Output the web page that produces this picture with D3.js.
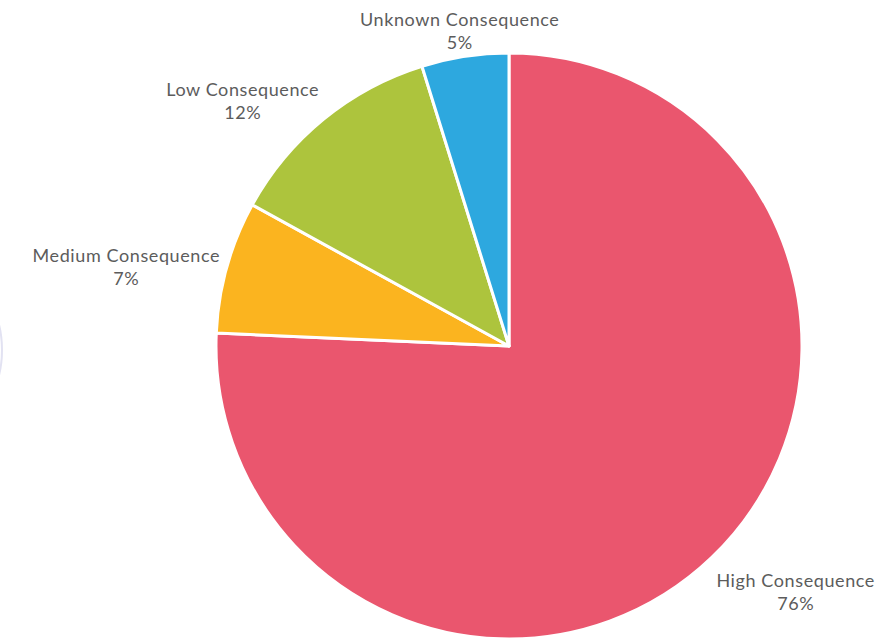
<!DOCTYPE html>
<meta charset="utf-8">
<style>
  body { margin: 0; background: #fff; }
  .label { font-family: Lato, "Open Sans", sans-serif; font-weight: 400; font-size: 18px; letter-spacing: 0.6px; fill: #5c5c5c; }
</style>
<body>
<div id="chart"></div>
<script src="https://d3js.org/d3.v7.min.js"></script>
<script>
  // slices, clockwise from 12 o'clock
  var categories = ["High Consequence", "Medium Consequence", "Low Consequence", "Unknown Consequence"];
  var shares = [75.7, 7.3, 12.2, 4.8];
  var colors = ["#ea566e", "#fbb41f", "#adc43d", "#2da8df"];

  var width = 889, height = 638;
  var cx = 509, cy = 346, radius = 293;
  var labelRadiusY = 328, labelRadiusX = 300;

  var svg = d3.select("#chart").append("svg")
    .attr("width", width)
    .attr("height", height);

  // faint edge of something cropped on the left
  svg.append("ellipse")
    .attr("cx", -60).attr("cy", 350)
    .attr("rx", 62).attr("ry", 80)
    .attr("fill", "none")
    .attr("stroke", "#e2e2f2")
    .attr("stroke-width", 2);

  var pie = d3.pie().sort(null).value(function (d) { return d; });
  var arcs = pie(shares);

  var arc = d3.arc().innerRadius(0).outerRadius(radius);

  var g = svg.append("g").attr("transform", "translate(" + cx + "," + cy + ")");

  g.selectAll("path.slice").data(arcs).enter()
    .append("path")
    .attr("class", "slice")
    .attr("d", arc)
    .attr("fill", function (d, i) { return colors[i]; })
    .attr("stroke", "#fff")
    .attr("stroke-width", 3)
    .attr("stroke-linejoin", "round");

  var total = d3.sum(shares);

  var midAngle = function (d) { return (d.startAngle + d.endAngle) / 2; };
  var side = function (d) {
    var s = Math.sin(midAngle(d));
    if (Math.abs(s) < 0.3) return 0;
    return s < 0 ? -1 : 1;
  };

  var labels = g.selectAll("text.label").data(arcs).enter()
    .append("text")
    .attr("class", "label")
    .attr("text-anchor", "middle")
    .attr("transform", function (d) {
      var a = midAngle(d);
      var x = Math.sin(a) * (side(d) === 0 ? labelRadiusY : labelRadiusX);
      var y = -Math.cos(a) * labelRadiusY - 2;
      return "translate(" + x + "," + y + ")";
    });

  labels.append("tspan")
    .attr("y", 0)
    .attr("dy", "0.35em")
    .text(function (d, i) { return categories[i]; });

  labels.append("tspan")
    .attr("y", 23)
    .attr("dy", "0.35em")
    .text(function (d) { return Math.round(d.value / total * 100) + "%"; });

  // left labels end at the anchor, right labels start there; both lines centred together
  labels.each(function (d) {
    var s = side(d);
    var w = this.childNodes[0].getComputedTextLength();
    d3.select(this).selectAll("tspan").attr("x", s * w / 2);
  });
</script>
</body>
